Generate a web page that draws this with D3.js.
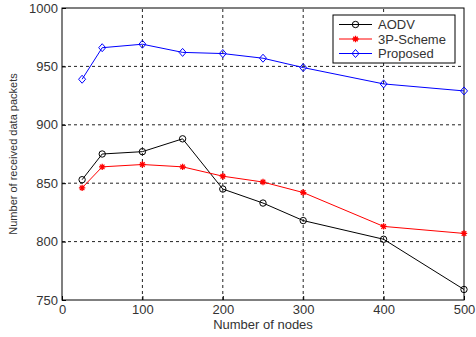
<!DOCTYPE html>
<html lang="en">
<head>
<meta charset="UTF-8">
<title>Received data packets</title>
<script src="https://d3js.org/d3.v7.min.js"></script>
<style>
  body { margin: 0; background: #fff; }
  text { font-family: "Liberation Sans", Arial, sans-serif; fill: #333; }
</style>
</head>
<body>
<svg width="476" height="337"></svg>
<script>
// data
const nodes = [25, 50, 100, 150, 200, 250, 300, 400, 500];
const aodv = [853, 875, 877, 888, 845, 833, 818, 802, 759];
const threeP = [846, 864, 866, 864, 856, 851, 842, 813, 807];
const proposed = [939, 966, 969, 962, 961, 957, 949, 935, 929];
const xTicks = [0, 100, 200, 300, 400, 500];
const yTicks = [750, 800, 850, 900, 950, 1000];

const series = [
  { name: "AODV", values: aodv, color: "#000", marker: "circle" },
  { name: "3P-Scheme", values: threeP, color: "#ff0000", marker: "star" },
  { name: "Proposed", values: proposed, color: "#0000ff", marker: "diamond" }
];

const margin = { top: 8, right: 12, bottom: 37, left: 62 };
const width = 476, height = 337;

const x = d3.scaleLinear().domain([0, 500]).range([margin.left, width - margin.right]);
const y = d3.scaleLinear().domain([750, 1000]).range([height - margin.bottom, margin.top]);

const svg = d3.select("svg");

// grid
svg.append("g").selectAll("line").data(xTicks.slice(1, -1)).join("line")
  .attr("x1", d => x(d)).attr("x2", d => x(d))
  .attr("y1", y(750)).attr("y2", y(1000))
  .attr("stroke", "#222").attr("stroke-dasharray", "3,3").attr("stroke-width", 1);
svg.append("g").selectAll("line").data(yTicks.slice(1, -1)).join("line")
  .attr("x1", x(0)).attr("x2", x(500))
  .attr("y1", d => y(d)).attr("y2", d => y(d))
  .attr("stroke", "#222").attr("stroke-dasharray", "3,3").attr("stroke-width", 1);

// axes
const xAxis = svg.append("g")
  .attr("transform", `translate(0,${y(750)})`)
  .call(d3.axisBottom(x).tickValues(xTicks).tickFormat(d3.format("d")).tickSize(-4).tickPadding(5));
const yAxis = svg.append("g")
  .attr("transform", `translate(${x(0)},0)`)
  .call(d3.axisLeft(y).tickValues(yTicks).tickFormat(d3.format("d")).tickSize(-4).tickPadding(4));
[xAxis, yAxis].forEach(a => {
  a.select(".domain").remove();
  a.selectAll("line").attr("stroke", "#000");
  a.selectAll("text").attr("font-size", 13).attr("fill", "#333")
    .style("font-family", "'Liberation Sans', Arial, sans-serif");
});

// box
svg.append("rect")
  .attr("x", x(0)).attr("y", y(1000))
  .attr("width", x(500) - x(0)).attr("height", y(750) - y(1000))
  .attr("fill", "none").attr("stroke", "#000").attr("stroke-width", 1);

// lines
const line = d3.line().x((d, i) => x(nodes[i])).y(d => y(d));

function drawMarker(g, type, color, cx, cy) {
  if (type === "circle") {
    g.append("circle").attr("cx", cx).attr("cy", cy).attr("r", 3.2)
      .attr("fill", "none").attr("stroke", color).attr("stroke-width", 1);
  } else if (type === "diamond") {
    g.append("path")
      .attr("d", `M${cx},${cy - 4}L${cx + 3.5},${cy}L${cx},${cy + 4}L${cx - 3.5},${cy}Z`)
      .attr("fill", "none").attr("stroke", color).attr("stroke-width", 1);
  } else {
    const r = 3.2;
    let d = "";
    for (let k = 0; k < 4; k++) {
      const a = k * Math.PI / 4;
      d += `M${cx - r * Math.cos(a)},${cy - r * Math.sin(a)}L${cx + r * Math.cos(a)},${cy + r * Math.sin(a)}`;
    }
    g.append("path").attr("d", d).attr("stroke", color).attr("stroke-width", 1.3);
  }
}

series.forEach(s => {
  const g = svg.append("g");
  g.append("path").datum(s.values)
    .attr("d", line).attr("fill", "none")
    .attr("stroke", s.color).attr("stroke-width", 1);
  s.values.forEach((v, i) => drawMarker(g, s.marker, s.color, x(nodes[i]), y(v)));
});

// legend
const lg = svg.append("g").attr("transform", "translate(333,15)");
lg.append("rect").attr("width", 122).attr("height", 48)
  .attr("fill", "#fff").attr("stroke", "#000").attr("stroke-width", 1);
series.forEach((s, i) => {
  const ly = 9.5 + i * 14.5;
  lg.append("line").attr("x1", 6).attr("x2", 39).attr("y1", ly).attr("y2", ly)
    .attr("stroke", s.color).attr("stroke-width", 1);
  drawMarker(lg, s.marker, s.color, 22.5, ly);
  lg.append("text").attr("x", 45).attr("y", ly + 4.5)
    .attr("font-size", 13).attr("fill", "#222").text(s.name);
});

// axis labels
svg.append("text")
  .attr("x", (x(0) + x(500)) / 2).attr("y", 329)
  .attr("text-anchor", "middle").attr("font-size", 13)
  .text("Number of nodes");
svg.append("text")
  .attr("transform", `translate(17,${(y(750) + y(1000)) / 2}) rotate(-90)`)
  .attr("text-anchor", "middle").attr("font-size", 11)
  .text("Number of received data packets");
</script>
</body>
</html>
